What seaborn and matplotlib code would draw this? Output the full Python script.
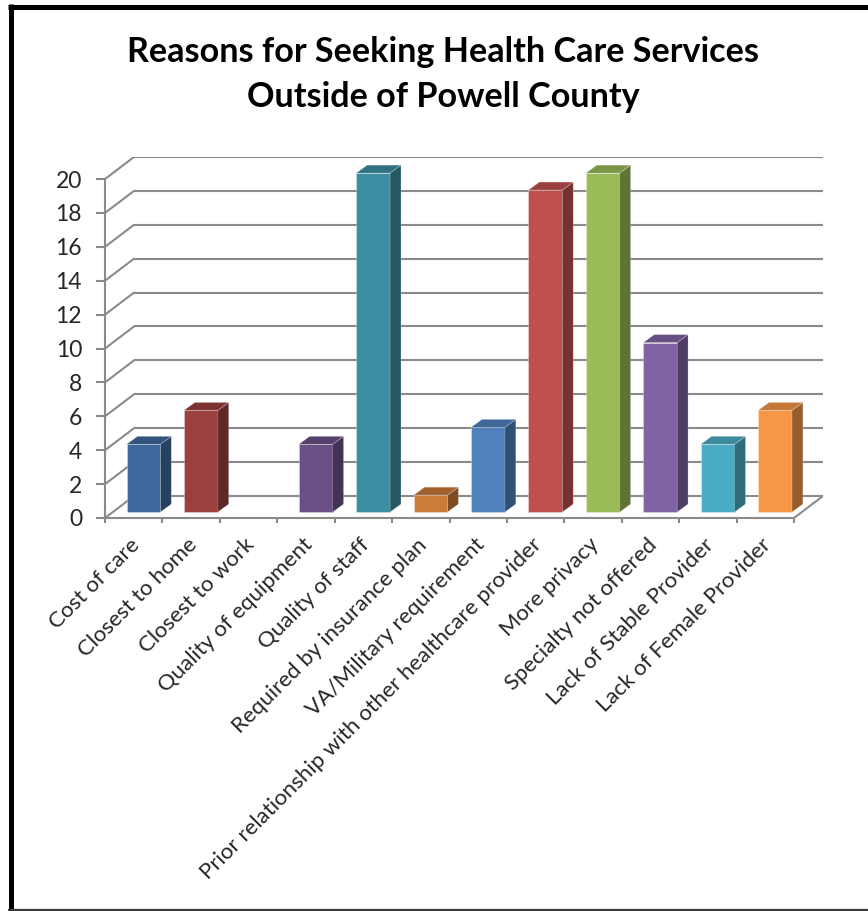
import matplotlib
matplotlib.use("Agg")
import matplotlib.pyplot as plt
import matplotlib.transforms as mtransforms
from matplotlib.patches import Polygon
from matplotlib.lines import Line2D
from matplotlib.colors import to_rgb
import seaborn as sns
import pandas as pd

# ---- data -------------------------------------------------------------
reasons = [
    "Cost of care",
    "Closest to home",
    "Closest to work",
    "Quality of equipment",
    "Quality of staff",
    "Required by insurance plan",
    "VA/Military requirement",
    "Prior relationship with other healthcare provider",
    "More privacy",
    "Specialty not offered",
    "Lack of Stable Provider",
    "Lack of Female Provider",
]
responses = [4, 6, 0, 4, 20, 1, 5, 19, 20, 10, 4, 6]
bar_colors = [
    "#3F699C", "#9B403E", "#7D9A46", "#6B5087", "#3D8DA3", "#CC7B38",
    "#4F81BD", "#C0504D", "#9BBB59", "#8064A2", "#4BACC6", "#F79646",
]
y_ticks = list(range(0, 21, 2))
title_lines = ["Reasons for Seeking Health Care Services", "Outside of Powell County"]

df = pd.DataFrame({"reason": reasons, "responses": responses})

# ---- style ------------------------------------------------------------
sns.set_theme(style="white")
plt.rcParams["font.family"] = ["Lato", "DejaVu Sans"]

W, H = 868, 911
fig = plt.figure(figsize=(W / 100, H / 100), dpi=100)
fig.patch.set_facecolor("white")

# pseudo-3D geometry (in data units)
n = len(reasons)
depth_x, depth_y = 0.505, 1.30        # full floor depth
face_dx, face_dy = 0.17, 0.35         # bar front plane offset
bar_dx, bar_dy = 0.19, 0.47           # bar thickness
x0, x1 = -0.5, n - 0.5
ymax = 20

ax_left, ax_right = 105, 823
ax_bottom_px, ax_top_px = 518, 157
ax = fig.add_axes([ax_left / W, (H - ax_bottom_px) / H,
                   (ax_right - ax_left) / W, (ax_bottom_px - ax_top_px) / H])
ax.set_facecolor("none")

grid_c = "#8A8A8A"
grid_lw = 1.5

sns.barplot(data=df, x="reason", y="responses", hue="reason",
            palette=bar_colors, legend=False, width=0.59,
            saturation=1, ax=ax, zorder=3)

ax.set_xlim(x0, x1 + depth_x)
ax.set_ylim(0, ymax + depth_y)

# back wall and side wall grid
for v in y_ticks:
    ax.plot([x0 + depth_x, x1 + depth_x], [v + depth_y, v + depth_y],
            color=grid_c, lw=grid_lw, zorder=1, solid_capstyle="butt")
    ax.plot([x0, x0 + depth_x], [v, v + depth_y],
            color=grid_c, lw=grid_lw, zorder=1)
# right edge of the floor
ax.plot([x1, x1 + depth_x], [0, depth_y], color=grid_c, lw=grid_lw, zorder=1)

# move the bar faces into the floor and add side/top faces
for patch, val, col in zip(ax.patches, responses, bar_colors):
    bx, bw = patch.get_x(), patch.get_width()
    by, bh = patch.get_y(), patch.get_height()
    patch.set_x(bx + face_dx)
    patch.set_y(by + face_dy)
    if val <= 0:
        patch.set_visible(False)
        continue
    rgb = to_rgb(col)
    side = tuple(c * 0.62 for c in rgb)
    top = tuple(c * 0.80 for c in rgb)
    lx, rx = bx + face_dx, bx + face_dx + bw
    b, t = by + face_dy, by + face_dy + bh
    patch.set_edgecolor((1, 1, 1, 0.35))
    patch.set_linewidth(0.6)
    ax.add_patch(Polygon([(rx, b), (rx + bar_dx, b + bar_dy),
                          (rx + bar_dx, t + bar_dy), (rx, t)],
                         closed=True, facecolor=side,
                         edgecolor=(1, 1, 1, 0.3), lw=0.5, zorder=3))
    ax.add_patch(Polygon([(lx, t), (rx, t), (rx + bar_dx, t + bar_dy),
                          (lx + bar_dx, t + bar_dy)],
                         closed=True, facecolor=top,
                         edgecolor=(1, 1, 1, 0.3), lw=0.5, zorder=3))

# axes lines
for s in ["top", "right"]:
    ax.spines[s].set_visible(False)
ax.spines["left"].set_bounds(0, ymax)
ax.spines["bottom"].set_bounds(x0, x1)
for s in ["left", "bottom"]:
    ax.spines[s].set_color(grid_c)
    ax.spines[s].set_linewidth(grid_lw)
    ax.spines[s].set_zorder(2)

ax.set_yticks(y_ticks)
ax.set_yticklabels([str(v) for v in y_ticks], fontsize=16.5)
ax.tick_params(axis="y", direction="out", length=6.5, width=grid_lw,
               color=grid_c, pad=10, left=True)

ax.set_xticks(range(n))
ax.set_xticklabels(reasons, rotation=45, ha="right", rotation_mode="anchor",
                   va="center", fontsize=16)
ax.set_xticks([i - 0.5 for i in range(n + 1)], minor=True)
ax.tick_params(axis="x", which="major", length=0, pad=17)
ax.tick_params(axis="x", which="minor", direction="out", length=3.6,
               width=grid_lw, color=grid_c, bottom=True)
for lab in ax.get_xticklabels():
    lab.set_transform(lab.get_transform() +
                      mtransforms.ScaledTranslation(3 / 100, 0, fig.dpi_scale_trans))
ax.set_xlabel("")
ax.set_ylabel("")
ax.grid(False)

# title
for line, ypx in zip(title_lines, [52, 97]):
    fig.text(443 / W, 1 - ypx / H, line, ha="center", va="center",
             fontsize=24.6, fontweight="bold", color="black")

# frame around the chart area
fig.add_artist(Line2D([10.5 / W, 10.5 / W], [0, 1 - 4 / H], transform=fig.transFigure,
                      color="black", lw=3.6, solid_capstyle="butt"))
fig.add_artist(Line2D([8 / W, 1], [1 - 6.5 / H, 1 - 6.5 / H], transform=fig.transFigure,
                      color="black", lw=3.6, solid_capstyle="butt"))
fig.add_artist(Line2D([8 / W, 1], [1.2 / H, 1.2 / H], transform=fig.transFigure,
                      color="#3A3A3A", lw=1.6, solid_capstyle="butt"))

fig.savefig("out.png", dpi=100, facecolor="white")
